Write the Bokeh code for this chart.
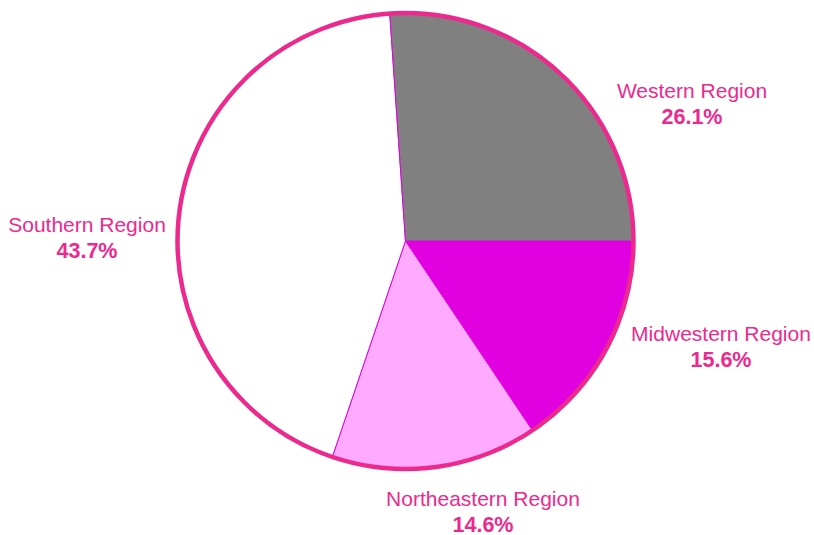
import math
from bokeh.plotting import figure
from bokeh.models import Range1d, ColumnDataSource
from bokeh.core.properties import value
from bokeh.embed import file_html
from bokeh.resources import INLINE

# Data (clockwise from 3 o'clock)
regions = ["Midwestern Region", "Northeastern Region", "Southern Region", "Western Region"]
shares = [15.6, 14.6, 43.7, 26.1]
colors = ["#E000E0", "#FFAAFF", "#FFFFFF", "#808080"]

# Layout (pixel positions of label centres, page coordinates)
label_px = [(720.5, 333), (482.5, 498), (86.5, 224), (691.5, 90)]
CX, CY, R = 405, 240.5, 228
W, H = 814, 535
PINK = "#EC2A8E"

def py(y):
    return H - y

p = figure(width=W, height=H, output_backend="svg", toolbar_location=None,
           x_range=Range1d(0, W), y_range=Range1d(0, H),
           min_border=0)
p.axis.visible = False
p.grid.visible = False
p.outline_line_color = None
p.background_fill_color = "white"
p.border_fill_color = "white"

total = sum(shares)
starts, ends = [], []
a = 0.0
for s in shares:
    starts.append(a)
    a -= s / total * 2 * math.pi
    ends.append(a)

src = ColumnDataSource(dict(start=starts, end=ends, color=colors))
p.wedge(x=CX, y=py(CY), radius=R, start_angle="start", end_angle="end",
        direction="clock", fill_color="color", line_color="#E000E0",
        line_width=1, source=src)
p.scatter(x=[CX], y=[py(CY)], size=2 * R, marker="circle", fill_color=None,
          line_color=PINK, line_width=4.5)

lx = [q[0] for q in label_px]
ly = [py(q[1]) for q in label_px]
ly2 = [py(q[1] + 26) for q in label_px]
p.text(x=lx, y=ly, text=regions, text_align="center", text_baseline="middle",
       text_font=value("Liberation Sans"), text_font_size="21px", text_color=PINK)
p.text(x=lx, y=ly2, text=[f"{s:.1f}%" for s in shares], text_align="center",
       text_baseline="middle", text_font=value("Liberation Sans"),
       text_font_size="21.5px", text_font_style="bold", text_color=PINK)

open("out.html", "w").write(file_html(p, INLINE))
